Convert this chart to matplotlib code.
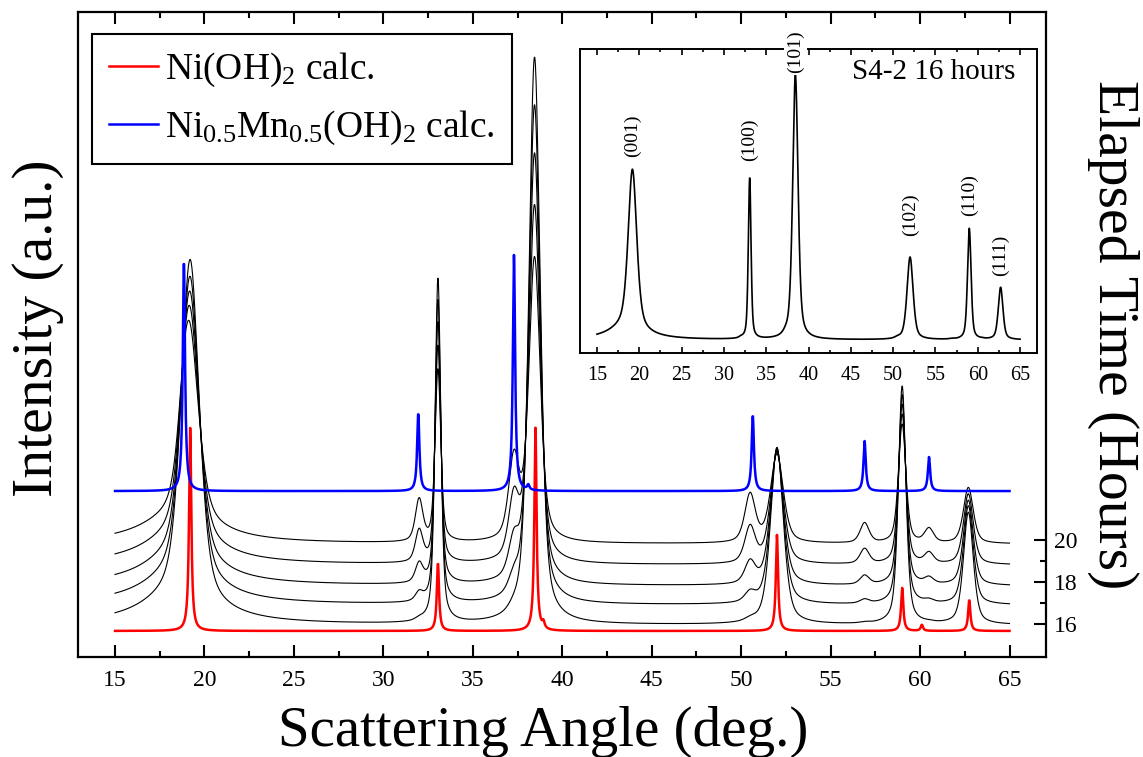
import numpy as np
import matplotlib
matplotlib.use('Agg')
import matplotlib.pyplot as plt
from matplotlib.ticker import MultipleLocator, FixedLocator

plt.rcParams['font.family'] = 'Liberation Serif'
plt.rcParams['mathtext.default'] = 'regular'

# scattering angle grid (deg.)
two_theta = np.arange(15, 65.001, 0.02)

# measured patterns: main phase peaks (heights for 16 h, a.u.)
main_pos = [19.2, 33.05, 38.45, 52.0, 59.0, 62.7]
main_height = [340, 345, 567, 177, 238, 112]
main_fwhm = [1.2, 0.38, 0.75, 0.85, 0.5, 0.65]
# second phase peaks (heights for 20 h)
sec_pos = [18.9, 32.0, 37.3, 50.5, 56.9, 60.5]
sec_height = [40, 42, 80, 48, 20, 14]
sec_fwhm = [0.8, 0.5, 0.7, 0.7, 0.6, 0.6]
# broad low-angle hump
hump_pos = [18.5]
hump_height = [26]
hump_fwhm = [5.0]

hours = [16, 17, 18, 19, 20]
trace_offset = [15.95, 16.9, 17.81, 18.81, 19.81]
main_scale = [1.0, 0.88, 0.76, 0.63, 0.5]
sec_scale = [0.05, 0.2, 0.45, 0.75, 1.0]
eta = 0.5

# calculated patterns
nioh_pos = [19.2, 33.05, 38.5, 38.95, 52.0, 59.0, 60.1, 62.75]
nioh_height = [203, 68, 203, 6, 96, 43, 6, 31]
nimn_pos = [18.85, 31.95, 37.3, 38.1, 50.65, 56.9, 60.5]
nimn_height = [231, 78, 236, 5, 76, 50, 34]
calc_fwhm = 0.15
nioh_offset = 15.67
nimn_offset = 22.33

inset_labels = ['(001)', '(100)', '(101)', '(102)', '(110)', '(111)']
px_per_hour = 21.0


def profile(pos, height, fwhm, scale=1.0, mix=1.0):
    y = np.zeros_like(two_theta)
    fw = np.broadcast_to(fwhm, (len(pos),))
    for p, h, w in zip(pos, height, fw):
        u = (two_theta - p) / (w / 2)
        shape = mix / (1 + u ** 2) + (1 - mix) * np.exp(-np.log(2) * u ** 2)
        y += scale * h * shape
    return y


def measured(k):
    return (profile(main_pos, main_height, main_fwhm, main_scale[k], eta)
            + profile(sec_pos, sec_height, sec_fwhm, sec_scale[k], eta)
            + profile(hump_pos, hump_height, hump_fwhm))


fig = plt.figure(figsize=(11.43, 7.57), dpi=100)
ax = fig.add_axes([78/1143, 1-657/757, 968/1143, 645/757])

for k in range(len(hours)):
    ax.plot(two_theta, trace_offset[k] + measured(k) / px_per_hour,
            color='black', lw=0.8)
l1, = ax.plot(two_theta, nioh_offset + profile(nioh_pos, nioh_height, calc_fwhm) / px_per_hour,
              color='#ff0000', lw=1.8)
l2, = ax.plot(two_theta, nimn_offset + profile(nimn_pos, nimn_height, calc_fwhm) / px_per_hour,
              color='#0000ff', lw=1.8)

ax.set_xlim(12.93, 67.04)
ax.set_ylim(14.43, 45.14)
ax.xaxis.set_major_locator(MultipleLocator(5))
ax.xaxis.set_minor_locator(MultipleLocator(2.5))
ax.set_xticks(range(15, 66, 5))
ax.yaxis.tick_right()
ax.yaxis.set_major_locator(FixedLocator([16, 18, 20]))
ax.yaxis.set_minor_locator(FixedLocator([17, 19]))
ax.tick_params(axis='x', which='both', direction='in', top=True, bottom=True,
               labelsize=17, pad=9, width=1.5)
ax.tick_params(axis='y', which='both', direction='in', left=False, right=True,
               labelsize=17, pad=6, width=1.5)
ax.tick_params(which='major', length=8.5)
ax.tick_params(which='minor', length=4.5)
for s in ax.spines.values():
    s.set_linewidth(1.6)

fig.text(543/1143, 1-746/757, 'Scattering Angle (deg.)', fontsize=41,
         ha='center', va='baseline')
fig.text(38/1143, 1-328/757, 'Intensity (a.u.)', fontsize=41.5,
         rotation=90, ha='center', va='center')
fig.text(1113/1143, 1-335/757, 'Elapsed Time (Hours)', fontsize=41.5,
         rotation=-90, ha='center', va='center')

leg = ax.legend([l1, l2], ['Ni(OH)$_2$ calc.', 'Ni$_{0.5}$Mn$_{0.5}$(OH)$_2$ calc.'],
                loc='upper left', bbox_to_anchor=(14/968, 1-22/645),
                borderaxespad=0, fontsize=27, fancybox=False, edgecolor='black',
                framealpha=1, handlelength=1.3, handletextpad=0.2,
                labelspacing=0.52, borderpad=0.45)
leg.get_frame().set_linewidth(1.5)

# inset: 16 hour pattern
ins = fig.add_axes([580/1143, 1-353/757, 457/1143, 304/757])
y16 = measured(0)
ins.plot(two_theta, y16, color='black', lw=1.2)
ins.set_xlim(13, 67)
ins.set_ylim(-28, 623)
ins.xaxis.set_major_locator(MultipleLocator(5))
ins.xaxis.set_minor_locator(MultipleLocator(2.5))
ins.set_xticks(range(15, 66, 5))
ins.set_yticks([])
ins.tick_params(axis='x', which='both', direction='in', top=True, labelsize=14.5, pad=9,
                width=1.2)
ins.tick_params(which='major', length=4.5)
ins.tick_params(which='minor', length=2.5)
for s in ins.spines.values():
    s.set_linewidth(1.4)
ins.text(0.952, 0.901, 'S4-2 16 hours', transform=ins.transAxes, fontsize=21,
         ha='right', va='baseline')
label_gap = [9, 12, 1.5, 15, 9, 8]
for p, lab, g in zip(main_pos, inset_labels, label_gap):
    i = np.argmin(np.abs(two_theta - p))
    top = y16[max(i-10, 0):i+10].max()
    t = ins.annotate(lab, (p, top), xytext=(0, g), textcoords='offset points',
                     rotation=90, ha='center', va='bottom', fontsize=14,
                     annotation_clip=False, zorder=5)
    if lab == '(101)':
        t.set_bbox(dict(facecolor='white', edgecolor='none', pad=2))

fig.savefig('out.png', dpi=100)
